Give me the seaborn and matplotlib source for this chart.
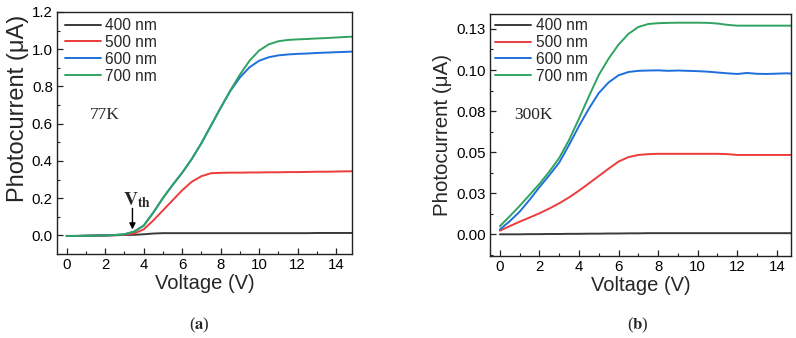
import numpy as np
import pandas as pd
import matplotlib
matplotlib.use("Agg")
import matplotlib.pyplot as plt
from matplotlib.ticker import MultipleLocator, FixedLocator, FixedFormatter
import seaborn as sns

# ---------------- data ----------------
voltage = [0, 0.5, 1, 1.5, 2, 2.5, 3, 3.5, 4, 4.5, 5, 5.5, 6, 6.5, 7, 7.5,
           8, 8.5, 9, 9.5, 10, 10.5, 11, 11.5, 12, 12.5, 13, 13.5, 14, 14.5, 15]
wavelengths = ["400 nm", "500 nm", "600 nm", "700 nm"]

# 77 K (panel a), photocurrent in uA
a_400 = [-0.003, -0.003, -0.002, -0.001, 0.0, 0.001, 0.002, 0.003, 0.006, 0.010, 0.012, 0.012,
         0.012, 0.012, 0.012, 0.012, 0.012, 0.012, 0.012, 0.012, 0.012, 0.012, 0.012, 0.012,
         0.012, 0.012, 0.013, 0.013, 0.013, 0.013, 0.013]
a_500 = [-0.003, -0.003, -0.002, -0.001, 0.0, 0.001, 0.003, 0.010, 0.032, 0.080, 0.134, 0.188,
         0.242, 0.288, 0.318, 0.334, 0.336, 0.337, 0.337, 0.338, 0.338, 0.339, 0.339, 0.340,
         0.340, 0.341, 0.342, 0.342, 0.343, 0.344, 0.345]
a_600 = [-0.003, -0.003, -0.002, -0.001, 0.0, 0.002, 0.006, 0.020, 0.052, 0.122, 0.200, 0.270,
         0.336, 0.410, 0.495, 0.590, 0.685, 0.775, 0.848, 0.903, 0.938, 0.957, 0.967, 0.972,
         0.975, 0.977, 0.980, 0.982, 0.984, 0.986, 0.988]
a_700 = [-0.003, -0.003, -0.002, -0.001, 0.0, 0.002, 0.006, 0.020, 0.052, 0.122, 0.200, 0.270,
         0.336, 0.410, 0.495, 0.590, 0.685, 0.778, 0.863, 0.938, 0.993, 1.026, 1.043, 1.050,
         1.053, 1.055, 1.058, 1.060, 1.063, 1.066, 1.068]

# 300 K (panel b), photocurrent in uA
b_400 = [0.0, 0.0, 0.0, 0.0001, 0.0001, 0.0002, 0.0002, 0.0003, 0.0003, 0.0004, 0.0004, 0.0005,
         0.0005, 0.0006, 0.0006, 0.0007, 0.0007, 0.0007, 0.0007, 0.0007, 0.0007, 0.0007, 0.0007,
         0.0007, 0.0007, 0.0007, 0.0007, 0.0007, 0.0007, 0.0007, 0.0007]
b_500 = [0.0022, 0.0050, 0.0077, 0.0102, 0.0128, 0.0157, 0.0189, 0.0225, 0.0266, 0.0310, 0.0355,
         0.0400, 0.0443, 0.0470, 0.0483, 0.0488, 0.0490, 0.0490, 0.0490, 0.0490, 0.0490, 0.0490,
         0.0490, 0.0488, 0.0483, 0.0483, 0.0483, 0.0483, 0.0483, 0.0483, 0.0483]
b_600 = [0.0030, 0.0080, 0.0138, 0.0210, 0.0287, 0.0360, 0.0437, 0.0545, 0.0660, 0.0765, 0.0860,
         0.0925, 0.0968, 0.0988, 0.0995, 0.0997, 0.0998, 0.0995, 0.0997, 0.0995, 0.0993, 0.0990,
         0.0985, 0.0980, 0.0976, 0.0982, 0.0977, 0.0976, 0.0978, 0.0980, 0.0976]
b_700 = [0.0050, 0.0110, 0.0173, 0.0240, 0.0307, 0.0382, 0.0465, 0.0575, 0.0705, 0.0840, 0.0970,
         0.1070, 0.1155, 0.1220, 0.1262, 0.1280, 0.1285, 0.1287, 0.1288, 0.1288, 0.1288, 0.1287,
         0.1283, 0.1275, 0.1270, 0.1270, 0.1270, 0.1270, 0.1270, 0.1270, 0.1270]

b_yticks = [0.0, 0.025, 0.05, 0.075, 0.10, 0.125]
b_yticklabels = ["0.00", "0.03", "0.05", "0.08", "0.10", "0.13"]

colors = ["#3a3a3a", "#ee3b3b", "#1f6fdb", "#2fa35f"]

# ---------------- style ----------------
sns.set_theme(style="ticks")
plt.rcParams["font.family"] = ["Liberation Sans", "DejaVu Sans"]
plt.rcParams["mathtext.fontset"] = "stix"
plt.rcParams["xtick.direction"] = "in"
plt.rcParams["ytick.direction"] = "in"
plt.rcParams["axes.edgecolor"] = "#222222"


def long_df(series):
    rows = []
    for name, vals in zip(wavelengths, series):
        for v, c in zip(voltage, vals):
            rows.append((v, c, name))
    return pd.DataFrame(rows, columns=["Voltage", "Current", "Wavelength"])


fig = plt.figure(figsize=(7.96, 3.38), dpi=100)
axa = fig.add_axes([0.0716, 0.2485, 0.3712, 0.716])
axb = fig.add_axes([0.6156, 0.2426, 0.3777, 0.716])

for ax, series in ((axa, [a_400, a_500, a_600, a_700]), (axb, [b_400, b_500, b_600, b_700])):
    sns.lineplot(data=long_df(series), x="Voltage", y="Current", hue="Wavelength",
                 hue_order=wavelengths, palette=colors, linewidth=1.4, ax=ax,
                 estimator=None, sort=True)
    for sp in ax.spines.values():
        sp.set_linewidth(1.0)
        sp.set_visible(True)
    ax.xaxis.set_major_locator(MultipleLocator(2))
    ax.xaxis.set_minor_locator(MultipleLocator(1))
    ax.tick_params(which="major", length=4, width=0.9, labelsize=10.8, pad=3,
                   colors="#222222", labelcolor="black")
    ax.tick_params(which="minor", length=2.5, width=0.8, colors="#222222")
    ax.tick_params(top=False, right=False, which="both")
    ax.set_xlabel("Voltage (V)", fontsize=14.5, labelpad=1)

# panel a
axa.set_xlim(-0.5, 14.85)
axa.set_ylim(-0.1, 1.2)
axa.yaxis.set_major_locator(MultipleLocator(0.2))
axa.yaxis.set_minor_locator(MultipleLocator(0.1))
axa.set_ylabel("Photocurrent (μA)", fontsize=17, labelpad=2)
axa.yaxis.label.set_y(0.60)
axa.legend(loc="upper left", bbox_to_anchor=(0.027, 0.975), frameon=False, fontsize=11.2,
           handlelength=2.3, handletextpad=0.3, labelspacing=0.12, borderaxespad=0, borderpad=0)
axa.text(1.19, 0.647, "77K", family="Liberation Serif", fontsize=12.5, ha="left", va="center")
axa.text(2.95, 0.19, r"$\mathbf{V}_{\mathbf{th}}$", fontsize=14, ha="left", va="center")
axa.annotate("", xy=(3.42, 0.032), xytext=(3.42, 0.145),
             arrowprops=dict(arrowstyle="-|>", color="black", lw=1.0, mutation_scale=9,
                             shrinkA=0, shrinkB=0))

# panel b
axb.set_xlim(-0.5, 14.7)
axb.set_ylim(-0.0132, 0.1341)
axb.yaxis.set_major_locator(FixedLocator(b_yticks))
axb.yaxis.set_major_formatter(FixedFormatter(b_yticklabels))
axb.yaxis.set_minor_locator(MultipleLocator(0.0125))
axb.set_ylabel("Photocurrent (μA)", fontsize=14.8, labelpad=3)
axb.legend(loc="upper left", bbox_to_anchor=(0.017, 0.983), frameon=False, fontsize=11.2,
           handlelength=2.3, handletextpad=0.3, labelspacing=0.12, borderaxespad=0, borderpad=0)
axb.text(0.71, 0.0727, "300K", family="Liberation Serif", fontsize=12.5, ha="left", va="center")

fig.text(0.25, 0.038, r"($\mathbf{a}$)", family="Liberation Serif", fontsize=12,
         ha="center", va="center")
fig.text(0.8015, 0.038, r"($\mathbf{b}$)", family="Liberation Serif", fontsize=12,
         ha="center", va="center")

fig.savefig("out.png", dpi=100)
